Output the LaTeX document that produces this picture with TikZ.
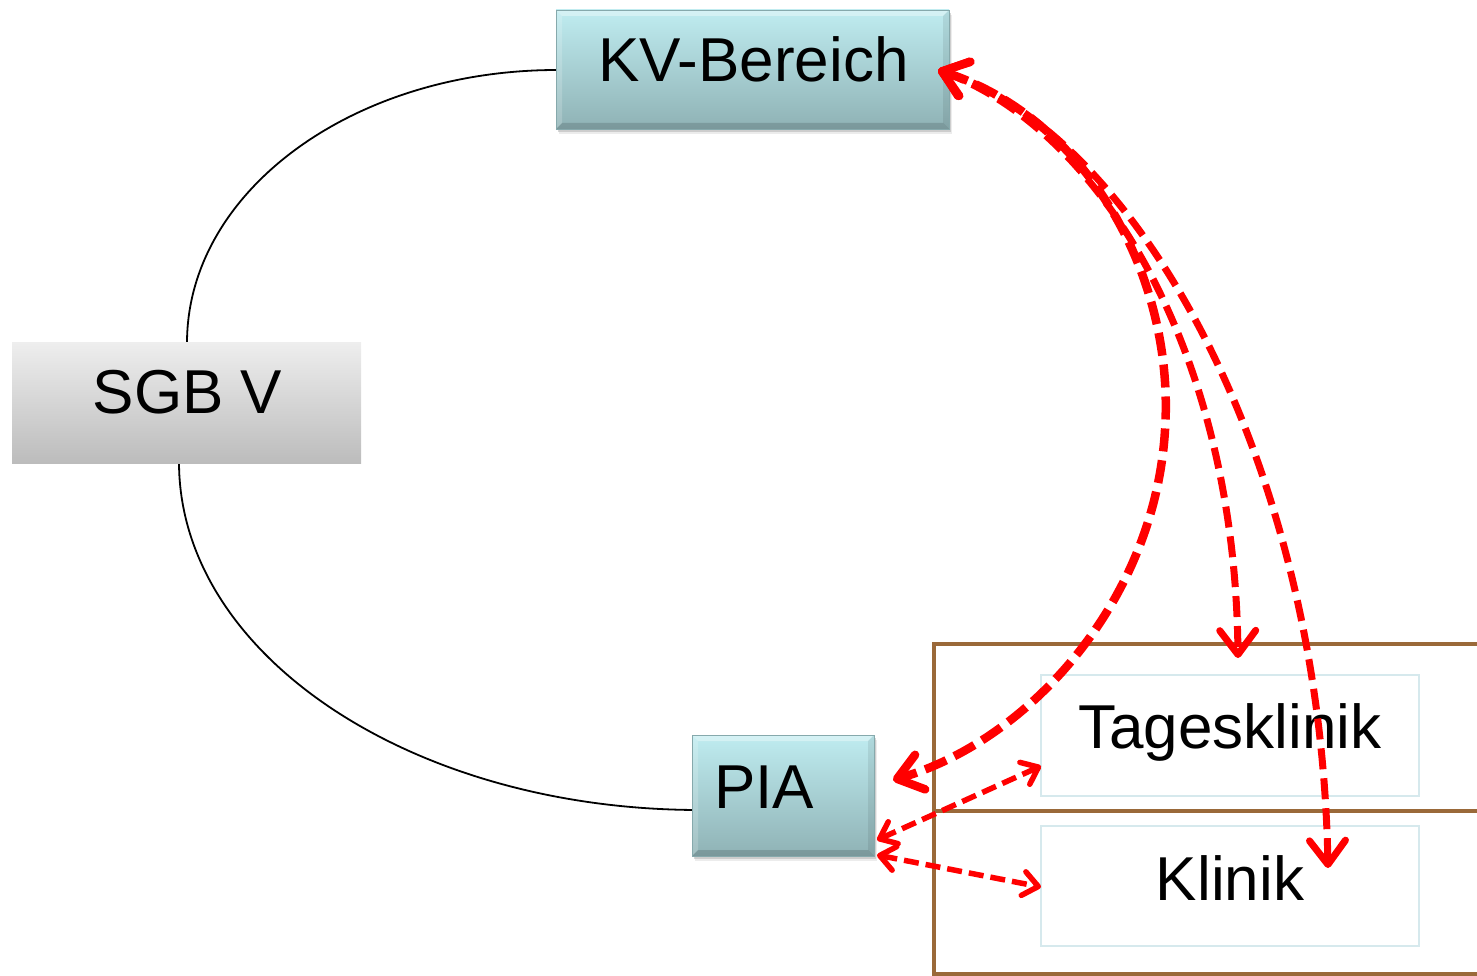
\documentclass[tikz,border=0pt]{standalone}
\usepackage{fontspec}
\setmainfont{Liberation Sans}
\usetikzlibrary{arrows.meta,shadows}
\definecolor{tealtop}{HTML}{BFECF0}
\definecolor{tealbot}{HTML}{8FB2B5}
\definecolor{tealedge}{HTML}{86A9AC}
\definecolor{greytop}{HTML}{EEEEEE}
\definecolor{greybot}{HTML}{BCBCBC}
\definecolor{paleedge}{HTML}{D6E9ED}
\definecolor{framebrown}{HTML}{9A6939}
\definecolor{linkred}{HTML}{FF0000}
\tikzset{
  bigbarb/.tip={Straight Barb[length=24pt, width=36pt, round]},
  smallbarb/.tip={Straight Barb[length=15pt, width=24pt, round]},
}
\begin{document}
\begin{tikzpicture}[x=1pt,y=-1pt,
  every node/.style={font=\fontsize{62}{70}\selectfont},
  bevelbox/.style={
    path picture={
      \coordinate (bnw) at (path picture bounding box.north west);
      \coordinate (bse) at (path picture bounding box.south east);
      \coordinate (bne) at (path picture bounding box.north east);
      \coordinate (bsw) at (path picture bounding box.south west);
      % light top and left bevels
      \fill[white, opacity=0.35] (bnw) -- (bne) -- ([shift={(-6pt,-6pt)}]bne) -- ([shift={(6pt,-6pt)}]bnw) -- cycle;
      \fill[white, opacity=0.18] (bnw) -- ([shift={(6pt,-6pt)}]bnw) -- ([shift={(6pt,6pt)}]bsw) -- (bsw) -- cycle;
      % dark bottom and right bevels
      \fill[black, opacity=0.14] (bsw) -- (bse) -- ([shift={(-6pt,6pt)}]bse) -- ([shift={(6pt,6pt)}]bsw) -- cycle;
      \fill[black, opacity=0.08] (bne) -- (bse) -- ([shift={(-6pt,6pt)}]bse) -- ([shift={(-6pt,-6pt)}]bne) -- cycle;
    }},
  tealbox/.style={draw=tealedge, line width=0.8pt, top color=tealtop, bottom color=tealbot, bevelbox,
    drop shadow={shadow xshift=1.5pt, shadow yshift=-3pt, fill=black!45, opacity=0.35},
    drop shadow={shadow xshift=2.5pt, shadow yshift=-5pt, fill=black!30, opacity=0.25}},
  greybox/.style={top color=greytop, bottom color=greybot, draw=none},
  palebox/.style={draw=paleedge, line width=1.8pt, fill=white},
  framebar/.style={draw=framebrown, line width=4.5pt},
  orbit/.style={draw=black, line width=1.8pt},
  redlink/.style={draw=linkred, line width=7pt, dash pattern=on 21pt off 9pt},
  redlinkthick/.style={draw=linkred, line width=8.5pt, dash pattern=on 23pt off 9pt},
  redshort/.style={draw=linkred, line width=5.5pt, dash pattern=on 15pt off 7pt},
]
\useasboundingbox (0,0) rectangle (1477,976);

% brown frame holding the two hospital boxes
\draw[framebar] (1480,644) -- (934,644) -- (934,978);
\draw[framebar] (934,811) -- (1480,811);
\draw[framebar] (934,974) -- (1480,974);

% thin orbit connecting the outpatient side
\coordinate (kvleft) at (557,70);
\coordinate (sgbtop) at (187,343);
\coordinate (sgbbot) at (179,462);
\coordinate (pialeft) at (700,810);
\draw[orbit] (kvleft) .. controls (352,70) and (187,192) .. (sgbtop);
\draw[orbit] (sgbbot) .. controls (179,655) and (412,810) .. (pialeft);

% boxes
\node[tealbox, minimum width=393pt, minimum height=119pt, inner sep=0pt] (kv) at (752.5,69.5) {};
\node[greybox, minimum width=349pt, minimum height=121pt, inner sep=0pt] (sgb) at (186.5,402.5) {};
\node[tealbox, minimum width=182pt, minimum height=121pt, inner sep=0pt] (pia) at (783,795.5) {};
\node[palebox, minimum width=378pt, minimum height=121pt, inner sep=0pt] (tk) at (1230,735.5) {};
\node[palebox, minimum width=378pt, minimum height=120pt, inner sep=0pt] (kl) at (1230,886) {};

% labels
\node[anchor=base, inner sep=0pt] (kvtext) at (753.5,82) {KV-Bereich};
\node[anchor=base, inner sep=0pt] (sgbtext) at (187.5,413) {SGB V};
\node[anchor=base west, inner sep=0pt] (piatext) at (714,808) {PIA};
\node[anchor=base, inner sep=0pt] (tktext) at (1230,748) {Tagesklinik};
\node[anchor=base, inner sep=0pt] (kltext) at (1230,900) {Klinik};

% red dashed links
\coordinate (kvtip) at (938,70);
\coordinate (tktop) at (1238,658);
\coordinate (kltip) at (1328,868);
\coordinate (piatip) at (893,780);
\coordinate (piaup) at (877,840);
\coordinate (tkleft) at (1041,766);
\coordinate (pialow) at (877,855);
\coordinate (klleft) at (1041,887);

\draw[redlink, {bigbarb}-{bigbarb}] (kvtip) .. controls (1100,130) and (1235,350) .. (tktop);
\draw[redlink, {bigbarb}-{bigbarb}] (kvtip) .. controls (1130,130) and (1320,450) .. (kltip);
\draw[redlinkthick, {bigbarb}-{bigbarb}] (kvtip) .. controls (1090,120) and (1175,280) .. (1165,430)
   .. controls (1155,600) and (1030,740) .. (piatip);
\draw[redshort, {smallbarb}-{smallbarb}] (piaup) -- (tkleft);
\draw[redshort, {smallbarb}-{smallbarb}] (pialow) -- (klleft);
\end{tikzpicture}
\end{document}
